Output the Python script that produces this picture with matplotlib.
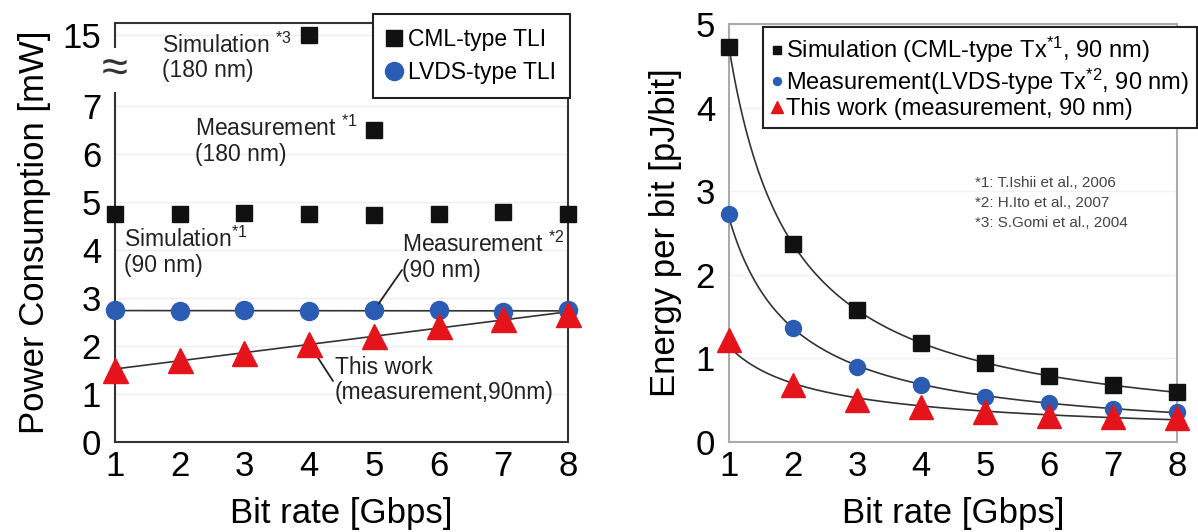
import numpy as np
import matplotlib
matplotlib.use("Agg")
import matplotlib.pyplot as plt
import matplotlib.transforms as mtransforms

plt.rcParams['font.family'] = ['Liberation Sans', 'DejaVu Sans']
plt.rcParams['mathtext.fontset'] = 'custom'
plt.rcParams['mathtext.rm'] = 'Liberation Sans'
plt.rcParams['mathtext.it'] = 'Liberation Sans:italic'

# ---- data: left panel (power consumption, mW) ----
bit_rate = [1, 2, 3, 4, 5, 6, 7, 8]
cml_sim_90 = [4.76, 4.76, 4.77, 4.76, 4.73, 4.76, 4.79, 4.76]
lvds_meas_90 = [2.74, 2.73, 2.74, 2.73, 2.75, 2.74, 2.71, 2.74]
this_work_power = [1.50, 1.70, 1.85, 2.04, 2.21, 2.42, 2.56, 2.66]
cml_sim_180_x, cml_sim_180_y = [4], [15.0]
cml_meas_180_x, cml_meas_180_y = [5], [6.5]
left_yticks = [0, 1, 2, 3, 4, 5, 6, 7, 15]

# ---- data: right panel (energy per bit, pJ/bit) ----
cml_energy = [4.73, 2.37, 1.58, 1.18, 0.94, 0.79, 0.68, 0.60]
lvds_energy = [2.73, 1.36, 0.90, 0.68, 0.54, 0.47, 0.40, 0.36]
this_energy = [1.22, 0.68, 0.50, 0.42, 0.36, 0.31, 0.30, 0.29]
footnotes = ["*1: T.Ishii et al., 2006", "*2: H.Ito et al., 2007", "*3: S.Gomi et al., 2004"]

BLACK = '#111111'
BLUE = '#2b5cb3'
RED = '#e5141b'
LINE = '#333333'
W, H = 1198, 532

fig = plt.figure(figsize=(11.98, 5.32), dpi=100)
axL = fig.add_axes([115/W, (H-442)/H, 453/W, 419/H])
axR = fig.add_axes([729/W, (H-442)/H, 448/W, 418/H])

# broken y axis: above 7 mW the scale is compressed
K = 0.185
def fwd(v):
    v = np.asarray(v, dtype=float)
    return np.where(v <= 7, v, 7 + (v - 7) * K)
def inv(y):
    y = np.asarray(y, dtype=float)
    return np.where(y <= 7, y, 7 + (y - 7) / K)

axL.set_yscale('function', functions=(fwd, inv))
axL.set_ylim(0, 16.35)
axL.set_xlim(1, 8)

x = np.array(bit_rate, dtype=float)
xs = np.linspace(1, 8, 200)

# trend lines
pl = np.polyfit(x, lvds_meas_90, 1)
axL.plot(xs, np.polyval(pl, xs), color=LINE, lw=1.2, zorder=2)
pt = np.polyfit(x, this_work_power, 1)
axL.plot(xs, np.polyval(pt, xs), color=LINE, lw=1.2, zorder=2)

axL.plot(bit_rate, cml_sim_90, 's', color=BLACK, ms=12, clip_on=False, zorder=3, label='CML-type TLI')
axL.plot(cml_sim_180_x, cml_sim_180_y, 's', color=BLACK, ms=12, clip_on=False, zorder=3)
axL.plot(cml_meas_180_x, cml_meas_180_y, 's', color=BLACK, ms=12, clip_on=False, zorder=3)
axL.plot(bit_rate, lvds_meas_90, 'o', color=BLUE, ms=13, clip_on=False, zorder=3, label='LVDS-type TLI')
axL.plot(bit_rate, this_work_power, '^', color=RED, ms=18, clip_on=False, zorder=4)

axL.set_yticks(left_yticks)
axL.set_yticklabels([str(t) for t in left_yticks])
axL.set_xticks(bit_rate)
axL.tick_params(axis='both', length=0, labelsize=25)
axL.tick_params(axis='x', pad=6)
axL.tick_params(axis='y', pad=10)
axL.set_xlabel('Bit rate [Gbps]', fontsize=25, labelpad=10)
axL.set_ylabel('Power Consumption [mW]', fontsize=25, labelpad=8)
axL.grid(axis='y', color='#eeeeee', lw=1)
axL.set_axisbelow(True)
for s in axL.spines.values():
    s.set_color('#333333')
    s.set_linewidth(1.5)

# axis break mark
trans = mtransforms.blended_transform_factory(axL.transAxes, axL.transData)
axL.text(0, 11.05, '\u2248', transform=trans, ha='center', va='center', fontsize=34,
         color='#333333', bbox=dict(facecolor='white', edgecolor='none', pad=0), zorder=5)

legL = axL.legend(loc='upper right', bbox_to_anchor=(570/W, 1-14/H), bbox_transform=fig.transFigure,
                  fontsize=16.5, frameon=True, fancybox=False, edgecolor='#222222', framealpha=1,
                  handlelength=0.7, handletextpad=0.25, labelspacing=0.45, borderpad=0.6,
                  borderaxespad=0)
legL.get_frame().set_linewidth(1.5)

def left_px(px, py):
    return ((px - 115) / 453, (442 - py) / 419)

tfs = 16.5
notes_left = [
    ('Simulation $^{\\mathrm{*3}}$\n(180 nm)', 162, 57.5),
    ('Measurement $^{\\mathrm{*1}}$\n(180 nm)', 195, 141),
    ('Simulation$^{\\mathrm{*1}}$\n(90 nm)', 124, 252),
    ('Measurement $^{\\mathrm{*2}}$\n(90 nm)', 402, 257),
    ('This work\n(measurement,90nm)', 335, 380),
]
for txt, px, py in notes_left:
    axL.text(*left_px(px, py), txt, transform=axL.transAxes, fontsize=tfs, va='center',
             ha='left', color='#222222', linespacing=1.1)

axL.annotate('', xy=(5.0, 2.74), xytext=left_px(402, 270), textcoords=axL.transAxes,
             arrowprops=dict(arrowstyle='-', color='#222222', lw=1.3, shrinkA=0, shrinkB=6))
axL.annotate('', xy=(4.0, 2.04), xytext=left_px(333, 381), textcoords=axL.transAxes,
             arrowprops=dict(arrowstyle='-', color='#222222', lw=1.3, shrinkA=0, shrinkB=4))

# ---- right panel ----
axR.set_xlim(1, 8)
axR.set_ylim(0, 5)

def power_fit(yv):
    b, a = np.polyfit(np.log(x), np.log(yv), 1)
    return np.exp(a) * xs ** b

for yv in (cml_energy, lvds_energy, this_energy):
    axR.plot(xs, power_fit(yv), color=LINE, lw=1.2, zorder=2)

axR.plot(bit_rate, cml_energy, 's', color=BLACK, ms=11.5, clip_on=False, zorder=3,
         label='Simulation (CML-type Tx$^{\\mathrm{*1}}$, 90 nm)')
axR.plot(bit_rate, lvds_energy, 'o', color=BLUE, ms=11.5, clip_on=False, zorder=3,
         label='Measurement(LVDS-type Tx$^{\\mathrm{*2}}$, 90 nm)')
axR.plot(bit_rate, this_energy, '^', color=RED, ms=17, clip_on=False, zorder=4,
         label='This work (measurement, 90 nm)')

axR.set_xticks(bit_rate)
axR.set_yticks([0, 1, 2, 3, 4, 5])
axR.tick_params(axis='both', length=0, labelsize=25)
axR.tick_params(axis='x', pad=6)
axR.tick_params(axis='y', pad=10)
axR.set_xlabel('Bit rate [Gbps]', fontsize=25, labelpad=10)
axR.set_ylabel('Energy per bit [pJ/bit]', fontsize=25, labelpad=10)
axR.grid(axis='y', color='#f2f2f2', lw=1)
axR.set_axisbelow(True)
for s in axR.spines.values():
    s.set_color('#aaaaaa')
    s.set_linewidth(1.5)

legR = axR.legend(loc='upper right', bbox_to_anchor=(1197/W, 1-27/H), bbox_transform=fig.transFigure,
                  fontsize=17, frameon=True, fancybox=False, edgecolor='#222222', framealpha=1,
                  markerscale=0.5, handlelength=0.45, handletextpad=0.15, labelspacing=0.05,
                  borderpad=0.35, borderaxespad=0)
legR.get_frame().set_linewidth(1.5)

for i, note in enumerate(footnotes):
    py = 183 + 20 * i
    axR.text((975 - 729) / 448, (442 - py) / 418, note, transform=axR.transAxes, fontsize=11,
             va='center', ha='left', color='#444444')

fig.savefig('out.png', dpi=100)
